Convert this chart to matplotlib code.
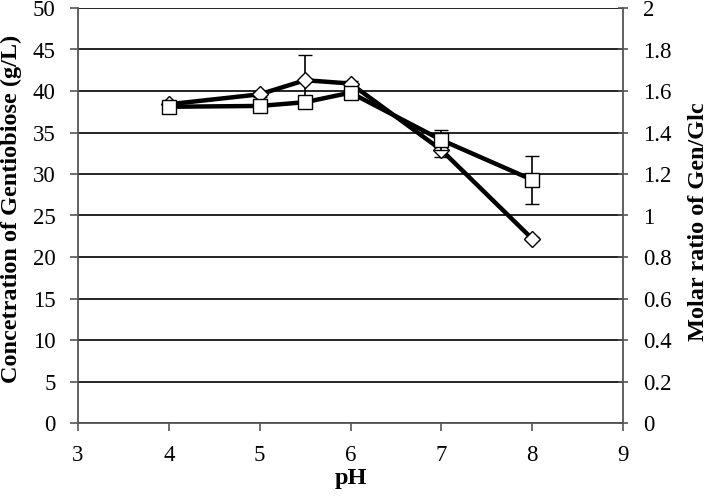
import matplotlib
matplotlib.use("Agg")
import matplotlib.pyplot as plt

plt.rcParams['font.family'] = ['Liberation Serif', 'DejaVu Serif']

ph = [4, 5, 5.5, 6, 7, 8]
conc = [38.4, 39.6, 41.3, 40.9, 32.9, 22.2]
conc_err = [0.3, 0.3, 3.0, 0.3, 0.8, 0.2]
ratio = [1.524, 1.528, 1.546, 1.592, 1.364, 1.172]
ratio_err = [0.005, 0.005, 0.01, 0.01, 0.05, 0.116]

left_ticks = list(range(0, 51, 5))
right_ticks = [0, 0.2, 0.4, 0.6, 0.8, 1.0, 1.2, 1.4, 1.6, 1.8, 2.0]
right_labels = ['0', '0.2', '0.4', '0.6', '0.8', '1', '1.2', '1.4', '1.6', '1.8', '2']
x_ticks = [3, 4, 5, 6, 7, 8, 9]

fig = plt.figure(figsize=(7.08, 4.98), dpi=100)
ax = fig.add_axes([78/708, 1-423/498, (623-78)/708, (423-8)/498])
ax2 = ax.twinx()

fs = 16.5
lfs = 17.5
spine_c = '#555555'

ax.set_xlim(3, 9)
ax.set_ylim(0, 50)
ax2.set_ylim(0, 2)
ax.set_yticks(left_ticks)
ax.set_yticklabels([str(t) for t in left_ticks], fontsize=fs)
ax.set_xticks(x_ticks)
ax.set_xticklabels([str(t) for t in x_ticks], fontsize=fs)
ax2.set_yticks(right_ticks)
ax2.set_yticklabels(right_labels, fontsize=fs)

ax.yaxis.grid(True, color='black', linewidth=1.2)
ax.set_axisbelow(True)

for a in (ax, ax2):
    for s in a.spines.values():
        s.set_color(spine_c)
        s.set_linewidth(1.3)
    a.spines['top'].set_visible(False)
ax.spines['right'].set_visible(False)
ax2.spines['left'].set_visible(False)
ax2.spines['bottom'].set_visible(False)

ax.tick_params(axis='y', direction='out', length=6, width=1.2, color=spine_c, pad=10)
ax.tick_params(axis='x', direction='out', length=6, width=1.2, color=spine_c, pad=10)
ax2.tick_params(axis='y', direction='inout', length=7, width=1.2, color=spine_c, pad=11)

ax.errorbar(ph, conc, yerr=conc_err, color='black', linewidth=3.2,
            marker='D', markersize=8.5, markerfacecolor='white',
            markeredgecolor='black', markeredgewidth=1.0,
            ecolor='black', elinewidth=1.2, capsize=5, capthick=1.2, zorder=3)
ax2.errorbar(ph, ratio, yerr=ratio_err, color='black', linewidth=3.2,
             marker='s', markersize=10, markerfacecolor='white',
             markeredgecolor='black', markeredgewidth=1.0,
             ecolor='black', elinewidth=1.2, capsize=5, capthick=1.2, zorder=3)

ax.set_xlabel('pH', fontsize=lfs, fontweight='bold', labelpad=1)
ax.set_ylabel('Concetration of Gentiobiose (g/L)', fontsize=lfs, fontweight='bold', labelpad=8)
ax2.set_ylabel('Molar ratio of Gen/Glc', fontsize=lfs, fontweight='bold', labelpad=12)
ax.yaxis.label.set_y(0.517)
ax2.yaxis.label.set_y(0.485)

fig.savefig('out.png', dpi=100)
